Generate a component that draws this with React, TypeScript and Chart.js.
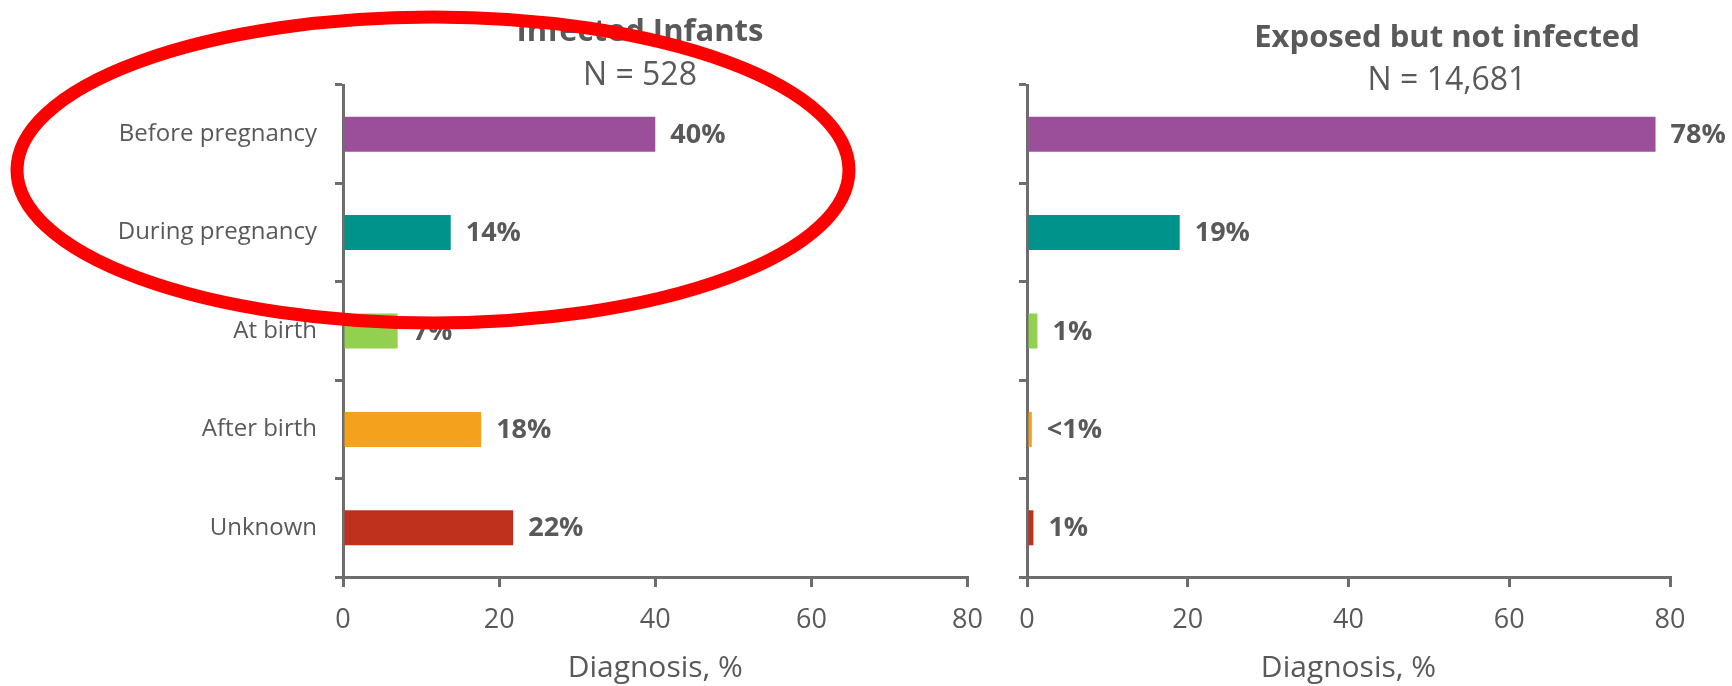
import React, { useEffect, useRef } from 'react';
import { Chart, registerables } from 'chart.js';

Chart.register(...registerables);

// ---------- data ----------
const categories = ['Before pregnancy', 'During pregnancy', 'At birth', 'After birth', 'Unknown'];
const barColors = ['#9B4F9B', '#00938B', '#92D050', '#F4A11D', '#C0311D'];

const infectedValues = [40, 13.8, 7, 17.7, 21.8];
const infectedLabels = ['40%', '14%', '7%', '18%', '22%'];

const exposedValues = [78.2, 19, 1.3, 0.6, 0.8];
const exposedLabels = ['78%', '19%', '1%', '<1%', '1%'];

const xTicks = [0, 20, 40, 60, 80];
const xAxisTitle = 'Diagnosis, %';

const infectedTitle = 'Infected Infants';
const infectedN = 'N = 528';
const exposedTitle = 'Exposed but not infected';
const exposedN = 'N = 14,681';

// ---------- styles ----------
const FONT = "'Open Sans', sans-serif";
const TEXT = '#595959';
const AXIS = '#6d6d6d';

type Panel = {
  values: number[];
  valueLabels: string[];
  title: string;
  subtitle: string;
  showCategoryLabels: boolean;
  width: number;
  yAxisWidth: number;
  padRight: number;
  titleX: number;
  titleY: number;
  subtitleY: number;
  ellipse?: { cx: number; cy: number; rx: number; ry: number; lw: number };
};

function makeOverlay(p: Panel) {
  return {
    id: 'panelOverlay',
    afterDraw(chart: any) {
      const ctx = chart.ctx as CanvasRenderingContext2D;
      ctx.save();
      const meta = chart.getDatasetMeta(0);
      ctx.fillStyle = TEXT;
      ctx.font = `bold 27px ${FONT}`;
      ctx.textAlign = 'left';
      ctx.textBaseline = 'middle';
      meta.data.forEach((bar: any, i: number) => {
        const { x, y } = bar.getProps(['x', 'y'], true);
        ctx.fillText(p.valueLabels[i], x + 15, y + 1);
      });
      ctx.textAlign = 'center';
      ctx.textBaseline = 'alphabetic';
      ctx.font = `bold 31px ${FONT}`;
      ctx.fillText(p.title, p.titleX, p.titleY);
      ctx.font = `32px ${FONT}`;
      ctx.fillText(p.subtitle, p.titleX, p.subtitleY);
      if (p.ellipse) {
        const e = p.ellipse;
        ctx.beginPath();
        ctx.ellipse(e.cx, e.cy, e.rx, e.ry, 0, 0, Math.PI * 2);
        ctx.strokeStyle = '#FF0000';
        ctx.lineWidth = e.lw;
        ctx.stroke();
      }
      ctx.restore();
    },
  };
}

function makeConfig(p: Panel): any {
  return {
    type: 'bar',
    data: {
      labels: categories,
      datasets: [
        {
          data: p.values,
          backgroundColor: barColors,
          borderWidth: 0,
          categoryPercentage: 1,
          barPercentage: 0.356,
        },
      ],
    },
    options: {
      indexAxis: 'y',
      responsive: false,
      animation: false,
      events: [],
      devicePixelRatio: 1,
      layout: { padding: { left: 0, right: p.padRight, top: 85, bottom: 0 } },
      plugins: {
        legend: { display: false },
        title: { display: false },
        tooltip: { enabled: false },
      },
      scales: {
        x: {
          type: 'linear',
          min: xTicks[0],
          max: xTicks[xTicks.length - 1],
          afterFit: (s: any) => {
            s.height = 109;
          },
          ticks: {
            stepSize: xTicks[1] - xTicks[0],
            color: TEXT,
            font: { family: FONT, size: 27 },
            padding: 17,
          },
          grid: {
            drawOnChartArea: false,
            drawTicks: true,
            tickLength: 10,
            color: AXIS,
            lineWidth: 3,
          },
          border: { display: true, color: AXIS, width: 3 },
          title: {
            display: true,
            text: xAxisTitle,
            color: TEXT,
            font: { family: FONT, size: 30 },
            padding: { top: 0, bottom: 0 },
          },
        },
        y: {
          type: 'category',
          afterFit: (s: any) => {
            s.width = p.yAxisWidth;
          },
          ticks: {
            display: p.showCategoryLabels,
            color: TEXT,
            font: { family: FONT, size: 24 },
            padding: 18,
          },
          grid: {
            offset: true,
            drawOnChartArea: false,
            drawTicks: true,
            tickLength: 8,
            color: AXIS,
            lineWidth: 3,
          },
          border: { display: true, color: AXIS, width: 3 },
        },
      },
    },
    plugins: [makeOverlay(p)],
  };
}

const leftPanel: Panel = {
  values: infectedValues,
  valueLabels: infectedLabels,
  title: infectedTitle,
  subtitle: infectedN,
  showCategoryLabels: true,
  width: 1000,
  yAxisWidth: 343,
  padRight: 29,
  titleX: 640,
  titleY: 41,
  subtitleY: 85,
  ellipse: { cx: 433, cy: 170, rx: 416, ry: 153, lw: 13 },
};

const rightPanel: Panel = {
  values: exposedValues,
  valueLabels: exposedLabels,
  title: exposedTitle,
  subtitle: exposedN,
  showCategoryLabels: false,
  width: 732,
  yAxisWidth: 27,
  padRight: 62,
  titleX: 447,
  titleY: 47,
  subtitleY: 90,
};

export default function App() {
  const leftRef = useRef<HTMLCanvasElement>(null);
  const rightRef = useRef<HTMLCanvasElement>(null);

  useEffect(() => {
    const c1 = new Chart(leftRef.current as HTMLCanvasElement, makeConfig(leftPanel));
    const c2 = new Chart(rightRef.current as HTMLCanvasElement, makeConfig(rightPanel));
    return () => {
      c1.destroy();
      c2.destroy();
    };
  }, []);

  return (
    <div
      style={{
        position: 'absolute',
        left: 0,
        top: 0,
        width: 1732,
        height: 686,
        overflow: 'hidden',
        background: '#ffffff',
      }}
    >
      <canvas
        ref={leftRef}
        width={leftPanel.width}
        height={686}
        style={{ position: 'absolute', left: 0, top: 0, width: leftPanel.width, height: 686 }}
      />
      <canvas
        ref={rightRef}
        width={rightPanel.width}
        height={686}
        style={{ position: 'absolute', left: 1000, top: 0, width: rightPanel.width, height: 686 }}
      />
    </div>
  );
}
